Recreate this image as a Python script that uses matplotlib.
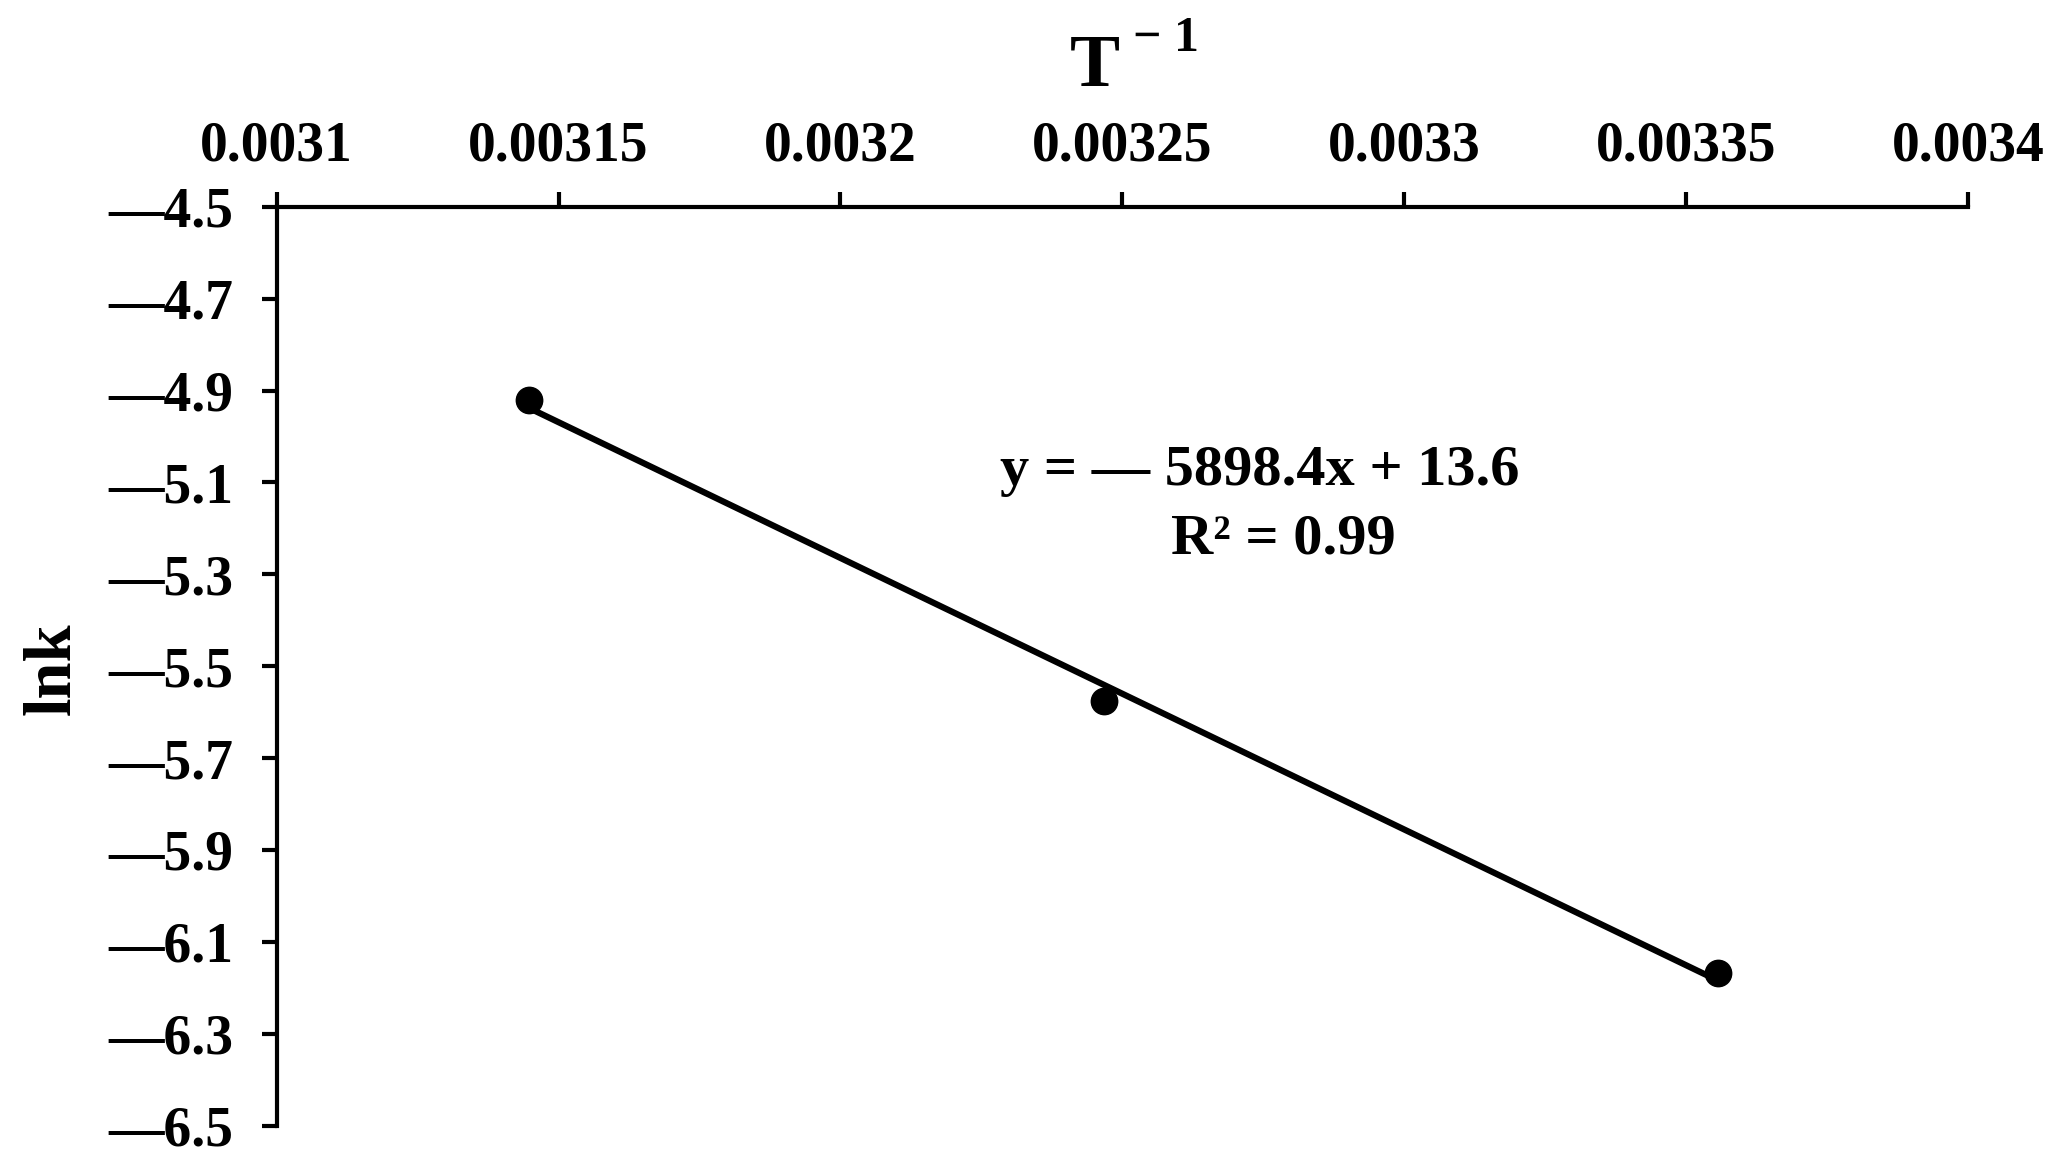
import numpy as np
import matplotlib
matplotlib.use("Agg")
import matplotlib.pyplot as plt

# ---- data ----
inv_T = [0.0031447, 0.0032468, 0.0033557]
lnk = [-4.92, -5.575, -6.168]
x_ticks = [0.0031, 0.00315, 0.0032, 0.00325, 0.0033, 0.00335, 0.0034]
x_tick_labels = ["0.0031", "0.00315", "0.0032", "0.00325", "0.0033", "0.00335", "0.0034"]
y_ticks = [-4.5, -4.7, -4.9, -5.1, -5.3, -5.5, -5.7, -5.9, -6.1, -6.3, -6.5]
y_tick_labels = ["\u2014" + f"{abs(v):.1f}" for v in y_ticks]
eq_line1 = "y = \u2014 5898.4x + 13.6"
eq_line2 = "R\u00b2 = 0.99"

plt.rcParams['font.family'] = ['Liberation Serif', 'DejaVu Serif']
plt.rcParams['font.weight'] = 'bold'

fig = plt.figure(figsize=(20.65, 11.75), dpi=100)
ax = fig.add_axes([0.134, 0.042, 0.819, 0.782])

# trendline
slope, intercept = np.polyfit(inv_T, lnk, 1)
xs = np.array([min(inv_T), max(inv_T)])
ax.plot(xs, slope * xs + intercept, color='black', lw=4.5, solid_capstyle='butt', zorder=2)
ax.plot(inv_T, lnk, 'o', color='black', ms=19, zorder=3)

ax.set_xlim(0.0031, 0.0034)
ax.set_ylim(-6.5, -4.5)

ax.xaxis.tick_top()
ax.set_xticks(x_ticks)
ax.set_xticklabels(x_tick_labels)
ax.set_yticks(y_ticks)
ax.set_yticklabels(y_tick_labels)

for s in ['right', 'bottom']:
    ax.spines[s].set_visible(False)
for s in ['top', 'left']:
    ax.spines[s].set_linewidth(3)
    ax.spines[s].set_color('black')

ax.tick_params(axis='x', direction='out', length=11, width=3, pad=14, labelsize=40)
ax.tick_params(axis='y', direction='out', length=11, width=3, pad=20, labelsize=40)
for lab in ax.get_xticklabels() + ax.get_yticklabels():
    lab.set_fontweight('bold')

# equation
ax.text(0.0032744, -5.076, eq_line1, ha='center', va='center', fontsize=42, fontweight='bold')
ax.text(0.0032786, -5.225, eq_line2, ha='center', va='center', fontsize=42, fontweight='bold')

# axis titles
fig.text(0.530, 0.927, "T", ha='center', va='baseline', fontsize=54, fontweight='bold')
fig.text(0.5485, 0.957, "\u2212 1", ha='left', va='baseline', fontsize=36, fontweight='bold')
fig.text(0.0257, 0.431, "lnk", ha='center', va='center', rotation=90, fontsize=48, fontweight='bold')

fig.savefig("out.png", dpi=100, facecolor='white')
